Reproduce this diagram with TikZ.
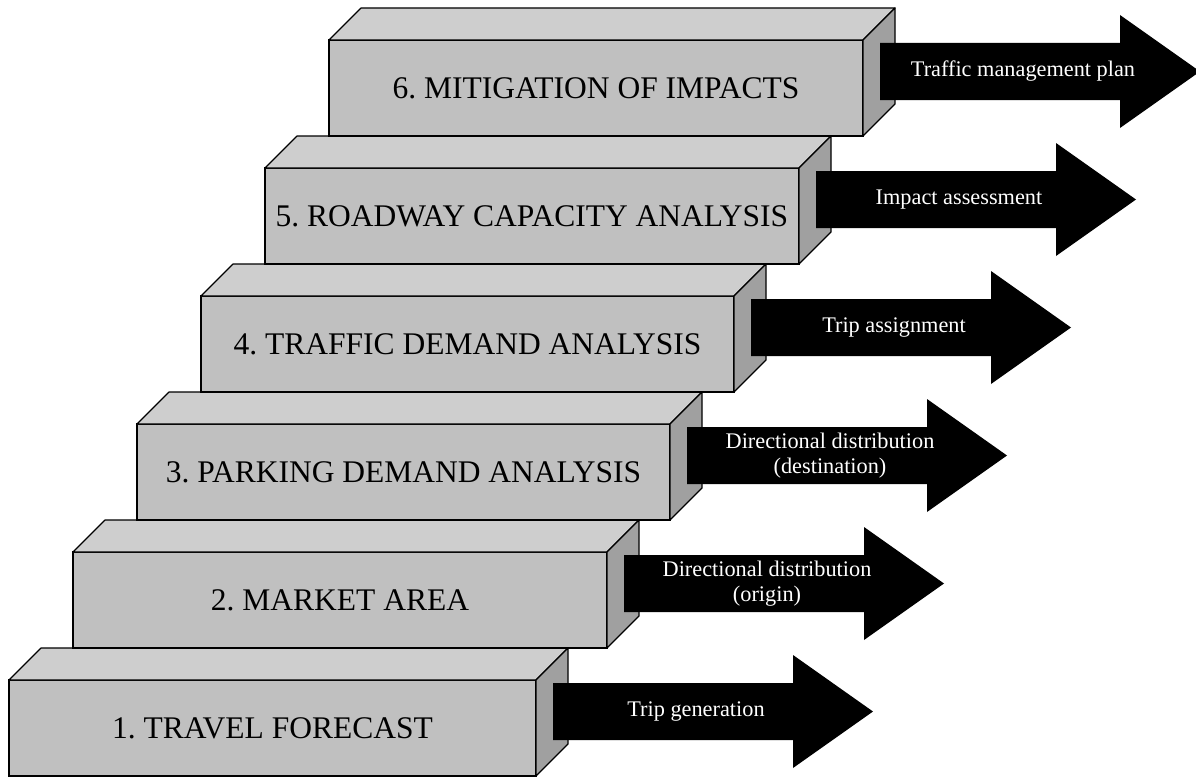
\documentclass[tikz,border=0pt]{standalone}
\usepackage{fontspec}
\setmainfont{Liberation Serif}
\usetikzlibrary{calc}
\frenchspacing
\definecolor{frontgray}{RGB}{192,192,192}
\definecolor{topgray}{RGB}{206,206,206}
\definecolor{sidegray}{RGB}{160,160,160}
\tikzset{
  front/.style={draw=black, line width=1.2pt, fill=frontgray, minimum height=96pt,
    inner sep=0pt, outer sep=0pt, anchor=north west, font=\fontsize{31.5}{31.5}\selectfont},
  face/.style={draw=black, line width=1.2pt, line join=round},
  bigarrow/.style={fill=black},
  arrowtext/.style={text=white, align=center, inner sep=0pt, font=\fontsize{22.3}{25.5}\selectfont}
}
\begin{document}
\begin{tikzpicture}[x=1pt,y=-1pt]
\useasboundingbox (0,0) rectangle (1196,776);
\foreach \i/\w/\lab in {1/527/{1. TRAVEL FORECAST},2/534/{2. MARKET AREA},3/533/{3. PARKING DEMAND ANALYSIS},4/533/{4. TRAFFIC DEMAND ANALYSIS},5/534/{5. ROADWAY CAPACITY ANALYSIS},6/534/{6. MITIGATION OF IMPACTS}}{
  \pgfmathsetmacro\L{9+64*(\i-1)}
  \pgfmathsetmacro\T{680-128*(\i-1)}
  \node[front, minimum width=\w pt] (box\i) at (\L,\T) {\lab};
  \draw[face, fill=topgray] (box\i.north west) -- ++(32,-32) -- ([shift={(32pt,32pt)}]box\i.north east) -- (box\i.north east) -- cycle;
  \draw[face, fill=sidegray] (box\i.north east) -- ++(32,-32) -- ++(0,96) -- (box\i.south east) -- cycle;
}
\foreach \i/\alab in {1/{Trip generation},2/{Directional distribution\\(origin)},3/{Directional distribution\\(destination)},4/{Trip assignment},5/{Impact assessment},6/{Traffic management plan}}{
  \coordinate (a\i) at ([xshift=17pt,yshift=-3pt]box\i.north east);
  \fill[bigarrow] (a\i) -- ++(240,0) -- ++(0,-28) -- ++(80,56.5) -- ++(-80,56.5) -- ++(0,-28) -- ++(-240,0) -- cycle;
  \node[arrowtext] (t\i) at ($(a\i)+(143,28.5)$) {\alab};
}
\end{tikzpicture}
\end{document}
